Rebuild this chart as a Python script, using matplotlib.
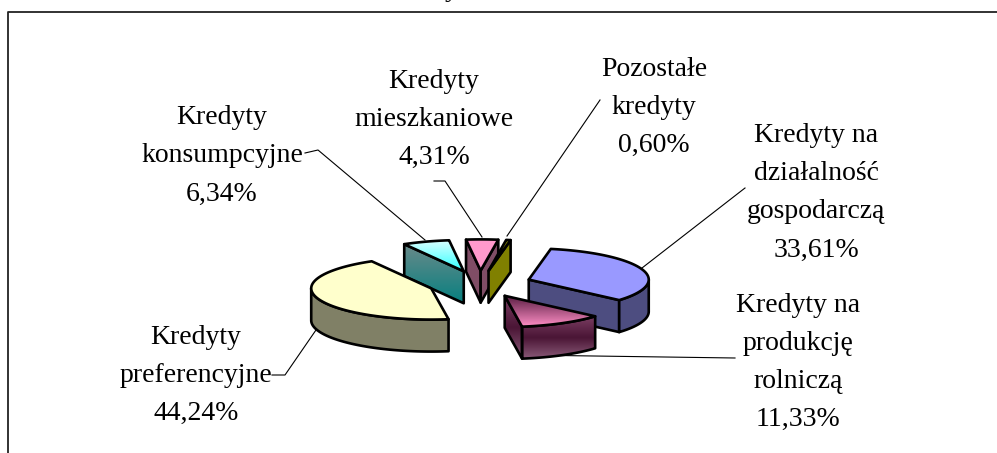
import numpy as np
import matplotlib
matplotlib.use("Agg")
import matplotlib.pyplot as plt
from matplotlib.colors import LinearSegmentedColormap
from matplotlib.patches import Polygon

# data, same order as the pie goes round (clockwise)
names = ["Kredyty na\ndziałalność\ngospodarczą", "Kredyty na\nprodukcję\nrolniczą", "Kredyty\npreferencyjne",
         "Kredyty\nkonsumpcyjne", "Kredyty\nmieszkaniowe", "Pozostałe\nkredyty"]
shares = [33.61, 11.33, 44.24, 6.34, 4.31, 0.60]
labels = ["33,61%", "11,33%", "44,24%", "6,34%", "4,31%", "0,60%"]

top_colors = [["#9999ff"], ["#5c1f44", "#ff8fc6"], ["#ffffcc"], ["#d8ffff", "#33ffff"], ["#ff99cc"], ["#808000"]]
wall_colors = [["#4d4d80"], ["#7a3d62", "#4a1535", "#8a5a78"], ["#808066"], ["#6a8a8a", "#088080"], ["#804d66"], ["#808000"]]

label_pos = [(816, 193), (798, 362), (196, 375), (222, 156), (434, 119), (654, 107)]
leaders = [[(745, 188), (642, 268)],
           [(735, 358), (523, 355)],
           [(272, 375), (285, 375), (316, 330)],
           [(305, 153), (318, 150), (425, 240)],
           [(434, 181), (445, 181), (482, 237)],
           [(600, 100), (507, 236)]]

CENTER = (480, 284)
RADIUS = 120
SQUASH = 0.26
DEPTH = 32
EXPLODE = 0.43
START = 10.6

plt.rcParams["font.family"] = ["Liberation Serif", "DejaVu Serif"]

fig = plt.figure(figsize=(9.97, 4.53), dpi=100)
ax = fig.add_axes([0, 0, 1, 1])
ax.set_xlim(0, 997)
ax.set_ylim(453, 0)
ax.axis("off")


def project(theta, r=RADIUS):
    t = np.radians(theta)
    return np.column_stack([r * np.sin(t), -r * SQUASH * np.cos(t)])


def paint(points, colors, z):
    points = np.asarray(points)
    edge = Polygon(points, closed=True, fc=colors[0], ec="black", lw=1.9, joinstyle="round", zorder=z + 0.1)
    ax.add_patch(edge)
    if len(colors) > 1:
        # fill goes top to bottom, clipped to the face
        cmap = LinearSegmentedColormap.from_list("f", colors)
        x0, x1 = points[:, 0].min(), points[:, 0].max()
        y0, y1 = points[:, 1].min(), points[:, 1].max()
        grad = np.linspace(0, 1, 64).reshape(-1, 1)
        im = ax.imshow(grad, cmap=cmap, extent=(x0, x1, y1, y0), aspect="auto", zorder=z)
        clip = Polygon(points, closed=True, transform=ax.transData)
        im.set_clip_path(clip)
        edge.set_facecolor("none")


def drop(points):
    return np.asarray(points) + [0, DEPTH]


angles = np.array(shares) / sum(shares) * 360
starts = START + np.concatenate([[0], np.cumsum(angles)[:-1]])

# back slices first so the front ones cover them
for z, i in enumerate([3, 4, 5, 2, 0, 1]):
    a0 = starts[i]
    a1 = a0 + angles[i]
    mid = np.radians((a0 + a1) / 2)
    tip = np.array(CENTER) + EXPLODE * RADIUS * np.array([np.sin(mid), -SQUASH * np.cos(mid)])
    arc_t = np.linspace(a0, a1, 90)
    arc = tip + project(arc_t)
    base = z * 2 + 2

    # cut faces, only the ones turned to the viewer
    if np.sin(np.radians(a0)) < 0:
        face = np.vstack([tip, arc[0], drop(arc[0]), drop(tip)])
        paint(face, wall_colors[i], base)
    if np.sin(np.radians(a1)) > 0:
        face = np.vstack([tip, arc[-1], drop(arc[-1]), drop(tip)])
        paint(face, wall_colors[i], base)

    # round outer wall, front half of the circle only
    lo, hi = max(a0, 90), min(a1, 270)
    if hi > lo:
        front = tip + project(np.linspace(lo, hi, 60))
        paint(np.vstack([front, drop(front)[::-1]]), wall_colors[i], base)

    paint(np.vstack([tip, arc]), top_colors[i], base + 1)

for line in leaders:
    xs, ys = zip(*line)
    ax.plot(xs, ys, color="black", lw=0.8, zorder=1)

for name, value, pos in zip(names, labels, label_pos):
    n = name.count("\n") + 2
    for k, row in enumerate((name + "\n" + value).split("\n")):
        y = pos[1] + (k - (n - 1) / 2) * 38
        ax.text(pos[0], y, row, fontsize=20, ha="center", va="center", color="black", zorder=30)

# chart frame, runs off the right and bottom of the picture
ax.plot([8, 8, 997], [453, 12, 12], color="#222222", lw=1.3, zorder=1)
ax.text(452, -4, "y", fontsize=20, ha="center", va="baseline", clip_on=True)

fig.savefig("out.png", dpi=100)
